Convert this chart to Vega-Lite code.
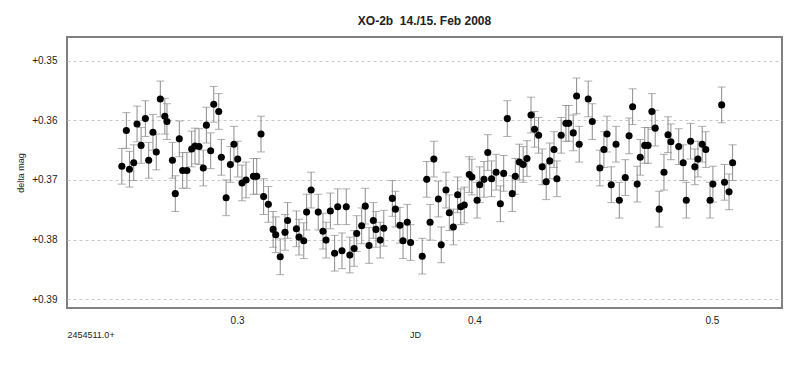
{
  "$schema": "https://vega.github.io/schema/vega-lite/v6.json",
  "width": 715,
  "height": 271,
  "autosize": {"type": "none"},
  "padding": {"left": 67, "top": 37, "right": 18, "bottom": 80},
  "background": "white",
  "title": {"text": "XO-2b \u00a014./15. Feb 2008", "font": "Liberation Sans", "fontSize": 12, "fontWeight": "bold", "color": "#222", "offset": 9},
  "config": {
    "view": {"stroke": "#808080", "strokeWidth": 2},
    "font": "Liberation Sans",
    "axis": {"labelFont": "Liberation Sans", "titleFont": "Liberation Sans", "labelColor": "#222", "titleColor": "#222"}
  },
  "data": {"values": [
    {"jd":0.2515,"mag":0.3677,"err":0.003},{"jd":0.2534,"mag":0.3617,"err":0.003},{"jd":0.2547,"mag":0.3682,"err":0.003},{"jd":0.2565,"mag":0.3671,"err":0.003},
    {"jd":0.2579,"mag":0.3606,"err":0.003},{"jd":0.2596,"mag":0.3642,"err":0.003},{"jd":0.2614,"mag":0.3597,"err":0.003},{"jd":0.2628,"mag":0.3667,"err":0.003},
    {"jd":0.2646,"mag":0.3620,"err":0.003},{"jd":0.2660,"mag":0.3653,"err":0.003},{"jd":0.2677,"mag":0.3564,"err":0.003},{"jd":0.2696,"mag":0.3593,"err":0.003},
    {"jd":0.2705,"mag":0.3602,"err":0.003},{"jd":0.2728,"mag":0.3667,"err":0.003},{"jd":0.2740,"mag":0.3723,"err":0.003},{"jd":0.2757,"mag":0.3631,"err":0.003},
    {"jd":0.2771,"mag":0.3684,"err":0.003},{"jd":0.2789,"mag":0.3684,"err":0.003},{"jd":0.2809,"mag":0.3648,"err":0.003},{"jd":0.2823,"mag":0.3643,"err":0.003},
    {"jd":0.2840,"mag":0.3644,"err":0.003},{"jd":0.2858,"mag":0.3680,"err":0.003},{"jd":0.2871,"mag":0.3608,"err":0.003},{"jd":0.2889,"mag":0.3651,"err":0.003},
    {"jd":0.2902,"mag":0.3573,"err":0.003},{"jd":0.2923,"mag":0.3585,"err":0.003},{"jd":0.2934,"mag":0.3662,"err":0.003},{"jd":0.2954,"mag":0.3730,"err":0.003},
    {"jd":0.2972,"mag":0.3674,"err":0.003},{"jd":0.2987,"mag":0.3640,"err":0.003},{"jd":0.3003,"mag":0.3665,"err":0.003},{"jd":0.3021,"mag":0.3705,"err":0.003},
    {"jd":0.3038,"mag":0.3700,"err":0.003},{"jd":0.3069,"mag":0.3694,"err":0.003},{"jd":0.3083,"mag":0.3694,"err":0.003},{"jd":0.3101,"mag":0.3623,"err":0.003},
    {"jd":0.3112,"mag":0.3728,"err":0.003},{"jd":0.3132,"mag":0.3741,"err":0.003},{"jd":0.3152,"mag":0.3783,"err":0.003},{"jd":0.3163,"mag":0.3792,"err":0.003},
    {"jd":0.3182,"mag":0.3829,"err":0.003},{"jd":0.3202,"mag":0.3788,"err":0.003},{"jd":0.3213,"mag":0.3768,"err":0.003},{"jd":0.3250,"mag":0.3782,"err":0.003},
    {"jd":0.3261,"mag":0.3796,"err":0.003},{"jd":0.3281,"mag":0.3802,"err":0.003},{"jd":0.3293,"mag":0.3754,"err":0.003},{"jd":0.3312,"mag":0.3717,"err":0.003},
    {"jd":0.3342,"mag":0.3754,"err":0.003},{"jd":0.3362,"mag":0.3786,"err":0.003},{"jd":0.3375,"mag":0.3801,"err":0.003},{"jd":0.3393,"mag":0.3752,"err":0.003},
    {"jd":0.3411,"mag":0.3823,"err":0.003},{"jd":0.3424,"mag":0.3745,"err":0.003},{"jd":0.3442,"mag":0.3819,"err":0.003},{"jd":0.3460,"mag":0.3745,"err":0.003},
    {"jd":0.3475,"mag":0.3826,"err":0.003},{"jd":0.3493,"mag":0.3815,"err":0.003},{"jd":0.3504,"mag":0.3790,"err":0.003},{"jd":0.3525,"mag":0.3777,"err":0.003},
    {"jd":0.3540,"mag":0.3744,"err":0.003},{"jd":0.3556,"mag":0.3810,"err":0.003},{"jd":0.3574,"mag":0.3768,"err":0.003},{"jd":0.3585,"mag":0.3783,"err":0.003},
    {"jd":0.3603,"mag":0.3801,"err":0.003},{"jd":0.3618,"mag":0.3781,"err":0.003},{"jd":0.3654,"mag":0.3731,"err":0.003},{"jd":0.3667,"mag":0.3749,"err":0.003},
    {"jd":0.3686,"mag":0.3776,"err":0.003},{"jd":0.3699,"mag":0.3802,"err":0.003},{"jd":0.3717,"mag":0.3771,"err":0.003},{"jd":0.3731,"mag":0.3805,"err":0.003},
    {"jd":0.3780,"mag":0.3828,"err":0.003},{"jd":0.3799,"mag":0.3699,"err":0.003},{"jd":0.3813,"mag":0.3771,"err":0.003},{"jd":0.3829,"mag":0.3665,"err":0.003},
    {"jd":0.3848,"mag":0.3732,"err":0.003},{"jd":0.3860,"mag":0.3809,"err":0.003},{"jd":0.3880,"mag":0.3717,"err":0.003},{"jd":0.3894,"mag":0.3755,"err":0.003},
    {"jd":0.3911,"mag":0.3779,"err":0.003},{"jd":0.3929,"mag":0.3725,"err":0.003},{"jd":0.3942,"mag":0.3745,"err":0.003},{"jd":0.3957,"mag":0.3742,"err":0.003},
    {"jd":0.3978,"mag":0.3691,"err":0.003},{"jd":0.3989,"mag":0.3695,"err":0.003},{"jd":0.4011,"mag":0.3734,"err":0.003},{"jd":0.4022,"mag":0.3708,"err":0.003},
    {"jd":0.4040,"mag":0.3699,"err":0.003},{"jd":0.4056,"mag":0.3654,"err":0.003},{"jd":0.4072,"mag":0.3698,"err":0.003},{"jd":0.4091,"mag":0.3687,"err":0.003},
    {"jd":0.4109,"mag":0.3740,"err":0.003},{"jd":0.4123,"mag":0.3689,"err":0.003},{"jd":0.4138,"mag":0.3597,"err":0.003},{"jd":0.4159,"mag":0.3723,"err":0.003},
    {"jd":0.4172,"mag":0.3694,"err":0.003},{"jd":0.4189,"mag":0.3670,"err":0.003},{"jd":0.4205,"mag":0.3674,"err":0.003},{"jd":0.4221,"mag":0.3664,"err":0.003},
    {"jd":0.4238,"mag":0.3591,"err":0.003},{"jd":0.4253,"mag":0.3615,"err":0.003},{"jd":0.4270,"mag":0.3625,"err":0.003},{"jd":0.4285,"mag":0.3678,"err":0.003},
    {"jd":0.4302,"mag":0.3703,"err":0.003},{"jd":0.4317,"mag":0.3668,"err":0.003},{"jd":0.4335,"mag":0.3649,"err":0.003},{"jd":0.4347,"mag":0.3698,"err":0.003},
    {"jd":0.4365,"mag":0.3625,"err":0.003},{"jd":0.4385,"mag":0.3605,"err":0.003},{"jd":0.4397,"mag":0.3605,"err":0.003},{"jd":0.4416,"mag":0.3621,"err":0.003},
    {"jd":0.4430,"mag":0.3559,"err":0.003},{"jd":0.4441,"mag":0.3640,"err":0.003},{"jd":0.4479,"mag":0.3564,"err":0.003},{"jd":0.4496,"mag":0.3602,"err":0.003},
    {"jd":0.4528,"mag":0.3680,"err":0.003},{"jd":0.4545,"mag":0.3649,"err":0.003},{"jd":0.4558,"mag":0.3623,"err":0.003},{"jd":0.4576,"mag":0.3708,"err":0.003},
    {"jd":0.4596,"mag":0.3640,"err":0.003},{"jd":0.4610,"mag":0.3734,"err":0.003},{"jd":0.4635,"mag":0.3696,"err":0.003},{"jd":0.4651,"mag":0.3626,"err":0.003},
    {"jd":0.4666,"mag":0.3577,"err":0.003},{"jd":0.4685,"mag":0.3707,"err":0.003},{"jd":0.4698,"mag":0.3662,"err":0.003},{"jd":0.4717,"mag":0.3642,"err":0.003},
    {"jd":0.4731,"mag":0.3642,"err":0.003},{"jd":0.4747,"mag":0.3585,"err":0.003},{"jd":0.4761,"mag":0.3613,"err":0.003},{"jd":0.4778,"mag":0.3749,"err":0.003},
    {"jd":0.4798,"mag":0.3687,"err":0.003},{"jd":0.4815,"mag":0.3624,"err":0.003},{"jd":0.4827,"mag":0.3636,"err":0.003},{"jd":0.4860,"mag":0.3644,"err":0.003},
    {"jd":0.4879,"mag":0.3671,"err":0.003},{"jd":0.4892,"mag":0.3734,"err":0.003},{"jd":0.4910,"mag":0.3635,"err":0.003},{"jd":0.4928,"mag":0.3678,"err":0.003},
    {"jd":0.4941,"mag":0.3665,"err":0.003},{"jd":0.4959,"mag":0.3640,"err":0.003},{"jd":0.4974,"mag":0.3649,"err":0.003},{"jd":0.4992,"mag":0.3734,"err":0.003},
    {"jd":0.5004,"mag":0.3707,"err":0.003},{"jd":0.5041,"mag":0.3574,"err":0.003},{"jd":0.5053,"mag":0.3704,"err":0.003},{"jd":0.5072,"mag":0.3720,"err":0.003},
    {"jd":0.5087,"mag":0.3671,"err":0.003}
  ]},
  "layer": [
    {
      "layer": [
        {
          "mark": {"type": "errorbar", "ticks": {"size": 8, "color": "#8c8c8c", "strokeWidth": 1}, "rule": {"color": "#8c8c8c", "strokeWidth": 1}},
          "encoding": {
            "x": {"field": "jd", "type": "quantitative",
                  "scale": {"domain": [0.2284, 0.5295], "nice": false, "zero": false},
                  "axis": {"values": [0.3, 0.4, 0.5], "format": ".1f", "grid": false, "ticks": false, "domain": false, "labelFontSize": 10, "labelPadding": 7,
                           "title": "JD", "titleFontSize": 9, "titleFontWeight": "normal", "titleX": 348, "titleY": 22, "titleAlign": "center"}},
            "y": {"field": "mag", "type": "quantitative",
                  "scale": {"domain": [0.346, 0.3915], "nice": false, "zero": false, "reverse": true},
                  "axis": {"values": [0.35, 0.36, 0.37, 0.38, 0.39], "format": "+.2f", "grid": true, "gridColor": "#c8c8c8", "gridDash": [3, 3], "gridWidth": 1,
                           "ticks": false, "domain": false, "labelFontSize": 10, "labelPadding": 10,
                           "title": "delta mag", "titleFontSize": 9, "titleFontWeight": "normal", "titlePadding": 6}},
            "yError": {"field": "err"}
          }
        },
        {
          "mark": {"type": "point", "filled": true, "color": "#000000", "opacity": 1, "size": 50},
          "encoding": {
            "x": {"field": "jd", "type": "quantitative"},
            "y": {"field": "mag", "type": "quantitative"}
          }
        }
      ]
    },
    {
      "mark": {"type": "point", "opacity": 0},
      "encoding": {
        "x": {"field": "jd", "type": "quantitative",
              "scale": {"domain": [0.2284, 0.5295], "nice": false, "zero": false},
              "axis": {"orient": "bottom", "labels": false, "ticks": false, "domain": false, "grid": false,
                       "title": "2454511.0+", "titleFontSize": 9, "titleFontWeight": "normal", "titleX": 0, "titleY": 22, "titleAlign": "left"}}
      }
    }
  ],
  "resolve": {"scale": {"x": "independent"}, "axis": {"x": "independent"}}
}
